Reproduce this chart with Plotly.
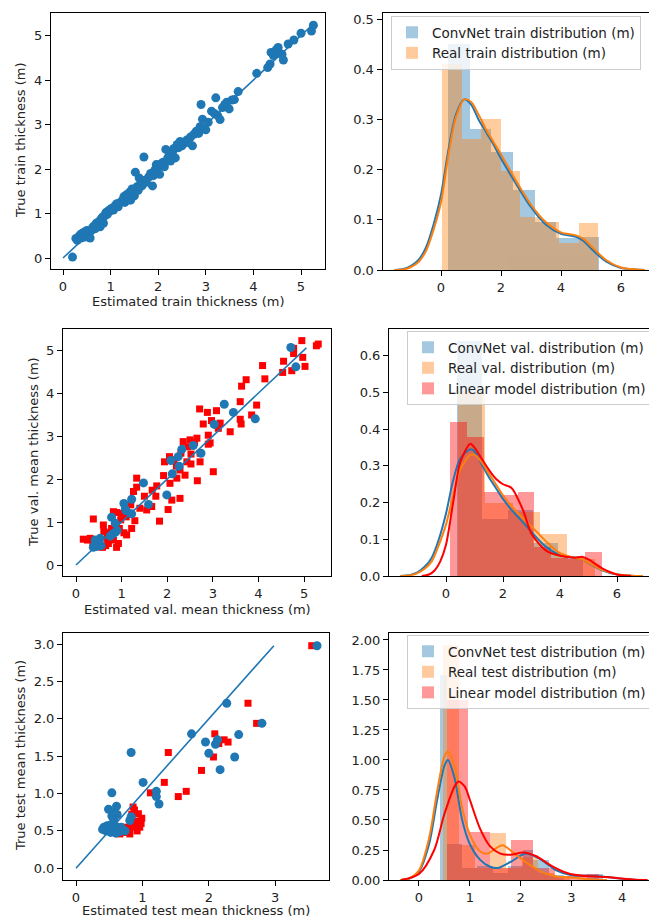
import plotly.graph_objects as go

W, H = 649, 921
BLUE = "#1f77b4"
ORANGE = "#ff7f0e"
RED = "#ff0000"
FONT = "DejaVu Sans"

# ---------------- train scatter (estimated, true) ----------------
train_est = [0.20, 0.27, 0.30, 0.33, 0.36, 0.38, 0.40, 0.42, 0.44, 0.46, 0.48, 0.50, 0.52, 0.55, 0.57,
             0.60, 0.62, 0.65, 0.68, 0.70, 0.73, 0.76, 0.78, 0.80, 0.83, 0.85, 0.88, 0.90, 0.93, 0.95,
             0.98, 1.00, 1.03, 1.06, 1.10, 1.13, 1.16, 1.20, 1.25, 1.28, 1.30, 1.33, 1.36, 1.40, 1.42,
             1.45, 1.48, 1.50, 1.52, 1.55, 1.58, 1.60, 1.63, 1.66, 1.70, 1.72, 1.75, 1.80, 1.84, 1.88,
             1.90, 1.93, 1.96, 2.00, 2.03, 2.06, 2.10, 2.13, 2.16, 2.20, 2.23, 2.26, 2.30, 2.33, 2.36,
             2.40, 2.43, 2.46, 2.50, 2.55, 2.60, 2.63, 2.68, 2.72, 2.75, 2.80, 2.85, 2.88, 2.90, 2.93,
             2.96, 3.00, 3.05, 3.12, 3.18, 3.21, 3.25, 3.30, 3.35, 3.40, 3.44, 3.49, 3.55, 3.60, 3.68,
             4.07, 4.30, 4.35, 4.37, 4.42, 4.48, 4.52, 4.55, 4.60, 4.63, 4.73, 4.85, 5.00, 5.22, 5.26]
train_true = [0.02, 0.44, 0.40, 0.48, 0.52, 0.45, 0.55, 0.50, 0.58, 0.47, 0.55, 0.62, 0.50, 0.57, 0.45,
              0.62, 0.68, 0.72, 0.66, 0.78, 0.74, 0.82, 0.70, 0.88, 0.92, 0.78, 0.95, 1.02, 0.98, 1.06,
              1.05, 1.10, 1.12, 1.08, 1.18, 1.22, 1.15, 1.25, 1.30, 1.38, 1.25, 1.42, 1.35, 1.48, 1.30,
              1.55, 1.50, 1.40, 1.93, 1.60, 1.52, 1.80, 1.68, 1.62, 2.27, 1.75, 1.70, 1.82, 1.90, 1.62,
              1.85, 1.98, 2.10, 2.05, 1.88, 2.12, 2.15, 2.05, 2.44, 2.25, 2.30, 2.18, 2.38, 2.46, 2.25,
              2.55, 2.48, 2.62, 2.52, 2.58, 2.65, 2.60, 2.72, 2.52, 2.78, 2.85, 2.80, 2.95, 3.45, 3.12,
              2.92, 2.88, 3.05, 3.30, 3.25, 3.60, 3.20, 3.11, 3.38, 3.45, 3.50, 3.35, 3.55, 3.56, 3.74,
              4.15, 4.28, 4.36, 4.62, 4.55, 4.68, 4.73, 4.60, 4.58, 4.45, 4.81, 4.90, 5.05, 5.10, 5.23]
train_line = [0.0, 5.23]

# ---------------- val scatter ----------------
val_cnn_est = [4.71, 4.82, 3.25, 3.45, 3.93, 3.03, 2.57, 2.32, 2.74, 2.24, 2.08, 2.26, 2.11, 1.48, 1.99,
               1.59, 1.05, 1.22, 1.10, 1.22, 0.78, 0.86, 0.86, 0.75, 0.53, 0.42, 0.45, 0.38, 0.50, 0.47,
               0.42, 0.55, 0.80, 0.90, 1.08]
val_cnn_true = [5.06, 4.61, 3.74, 3.55, 3.40, 3.27, 2.78, 2.69, 2.60, 2.52, 2.43, 2.30, 2.12, 1.91, 1.63,
                1.41, 1.43, 1.53, 1.26, 1.19, 1.11, 0.97, 0.76, 0.67, 0.62, 0.50, 0.43, 0.41, 0.55, 0.47,
                0.58, 0.45, 0.72, 0.80, 1.30]
val_lin_est = [4.95, 5.31, 5.27, 4.77, 4.77, 4.97, 5.02, 4.73, 4.53, 4.55, 4.09, 4.14, 3.73, 3.63, 3.60,
               3.96, 3.85, 3.60, 3.62, 3.38, 2.71, 2.88, 3.08, 2.97, 2.79, 3.16, 3.12, 2.90, 2.94, 2.90,
               3.01, 2.66, 2.72, 2.72, 2.35, 2.50, 2.65, 2.52, 2.43, 2.05, 1.94, 2.28, 2.39, 2.21, 2.06,
               2.28, 2.10, 2.02, 1.83, 1.92, 1.77, 1.67, 1.66, 1.55, 1.33, 1.33, 1.26, 1.40, 1.29, 1.22,
               1.11, 1.10, 0.89, 0.82, 0.98, 0.95, 0.78, 0.60, 0.61, 0.69, 0.82, 0.93, 0.89, 0.71, 0.58,
               0.37, 0.31, 0.16, 0.38, 2.45, 2.60, 2.15, 2.30, 1.50, 1.20, 1.00, 0.70, 0.50, 0.25, 0.65,
               1.05, 2.52, 1.75, 2.20]
val_lin_true = [5.22, 5.14, 5.10, 4.92, 5.04, 4.83, 4.62, 4.52, 4.48, 4.74, 4.64, 4.33, 4.31, 4.16, 3.80,
                3.72, 3.49, 3.39, 3.28, 3.10, 3.63, 3.55, 3.59, 3.36, 3.28, 3.30, 3.18, 3.02, 2.84, 2.81,
                2.17, 1.96, 2.60, 2.40, 2.87, 2.91, 2.95, 2.58, 2.40, 2.52, 2.40, 2.21, 2.09, 2.02, 1.90,
                1.55, 1.51, 1.29, 1.02, 2.08, 1.84, 1.74, 1.36, 1.28, 2.02, 1.81, 1.71, 1.32, 1.03, 0.85,
                0.70, 1.12, 1.22, 1.24, 1.05, 0.85, 0.85, 0.93, 0.78, 0.62, 0.58, 0.50, 0.41, 0.50, 0.41,
                0.50, 0.62, 0.60, 1.07, 2.75, 2.85, 2.45, 2.60, 1.60, 1.40, 1.20, 0.75, 0.50, 0.58, 0.45,
                0.75, 2.35, 1.60, 2.30]
val_line = [0.0, 5.05]

# ---------------- test scatter ----------------
test_cnn_est = [3.63, 2.27, 2.80, 1.74, 2.45, 1.95, 2.10, 2.13, 2.00, 2.39, 2.17, 0.83, 1.01, 1.21, 1.21,
                1.25, 0.54, 0.49, 0.61, 0.54, 0.58, 0.62, 0.81, 0.83, 0.57, 0.42, 0.45, 0.47, 0.50, 0.52,
                0.55, 0.58, 0.60, 0.63, 0.66, 0.70, 0.45, 0.52, 0.60, 0.68, 0.74, 0.40]
test_cnn_true = [2.98, 2.21, 1.94, 1.80, 1.79, 1.69, 1.66, 1.72, 1.54, 1.49, 1.32, 1.55, 1.15, 1.03, 0.96,
                 0.86, 1.01, 0.79, 0.83, 0.70, 0.74, 0.72, 0.64, 0.69, 0.65, 0.55, 0.50, 0.57, 0.52, 0.48,
                 0.55, 0.50, 0.56, 0.52, 0.49, 0.51, 0.53, 0.58, 0.47, 0.55, 0.50, 0.52]
test_lin_est = [3.55, 2.59, 2.72, 2.09, 2.23, 2.29, 2.15, 2.07, 1.89, 1.39, 1.33, 1.12, 1.66, 1.54, 0.86,
                0.84, 0.94, 0.99, 0.91, 0.89, 0.96, 0.77, 0.81, 0.66, 0.71, 0.85, 0.92, 0.75, 0.88, 0.63,
                0.98, 0.80, 0.70, 0.83]
test_lin_true = [2.98, 2.21, 1.94, 1.80, 1.72, 1.69, 1.67, 1.49, 1.31, 1.55, 1.15, 1.01, 1.03, 0.96, 0.82,
                 0.72, 0.73, 0.67, 0.63, 0.55, 0.55, 0.50, 0.46, 0.46, 0.48, 0.60, 0.50, 0.55, 0.78, 0.50,
                 0.60, 0.52, 0.49, 0.65]
test_line = [0.0, 2.98]

# ---------------- histograms (bin edges, densities) ----------------
train_cnn_edges = [0.22, 0.94, 1.66, 2.38, 3.10, 3.82, 4.54, 5.26]
train_cnn_heights = [0.45, 0.28, 0.235, 0.16, 0.095, 0.063, 0.066]
train_real_edges = [0.02, 0.67, 1.32, 1.97, 2.63, 3.28, 3.93, 4.58, 5.23]
train_real_heights = [0.41, 0.26, 0.30, 0.197, 0.105, 0.095, 0.053, 0.093]

val_cnn_edges = [0.39, 1.28, 2.16, 3.05, 3.93, 4.82]
val_cnn_heights = [0.64, 0.155, 0.18, 0.09, 0.055]
val_real_edges = [0.42, 1.38, 2.34, 3.30, 4.26, 5.22]
val_real_heights = [0.50, 0.20, 0.175, 0.115, 0.045]
val_lin_edges = [0.15, 0.74, 1.33, 1.92, 2.51, 3.10, 3.69, 4.28, 4.87, 5.46]
val_lin_heights = [0.42, 0.38, 0.23, 0.22, 0.23, 0.08, 0.05, 0.045, 0.065]

test_cnn_edges = [0.41, 0.56, 0.85, 1.15, 1.45, 1.75, 2.05, 2.25, 2.55, 2.85, 3.30, 3.62]
test_cnn_heights = [1.71, 0.30, 0.10, 0.12, 0.06, 0.12, 0.25, 0.17, 0.04, 0.0, 0.05]
test_real_edges = [0.47, 0.78, 1.10, 1.40, 1.72, 2.03, 2.35, 2.66, 2.98]
test_real_heights = [1.96, 0.29, 0.10, 0.39, 0.10, 0.19, 0.06, 0.03]
test_lin_edges = [0.56, 0.97, 1.39, 1.82, 2.25, 2.68, 3.10, 3.55]
test_lin_heights = [1.50, 0.40, 0.10, 0.33, 0.10, 0.03, 0.05]

# ---------------- KDE curves ----------------
train_kde_x = [-1.55, -1.25, -1.0, -0.75, -0.5, -0.25, 0.0, 0.25, 0.5, 0.78, 1.0, 1.25, 1.5, 1.75, 2.0,
               2.5, 3.0, 3.5, 4.0, 4.5, 4.75, 5.0, 5.5, 6.0, 6.5, 6.8]
train_cnn_kde = [0.0, 0.002, 0.008, 0.02, 0.045, 0.09, 0.15, 0.24, 0.31, 0.34, 0.33, 0.30, 0.275, 0.25,
                 0.222, 0.172, 0.125, 0.09, 0.072, 0.066, 0.058, 0.043, 0.017, 0.004, 0.001, 0.0]
train_real_kde = [0.0, 0.001, 0.006, 0.016, 0.038, 0.08, 0.135, 0.23, 0.305, 0.34, 0.335, 0.31, 0.28,
                  0.255, 0.23, 0.178, 0.13, 0.095, 0.075, 0.069, 0.062, 0.048, 0.02, 0.005, 0.001, 0.0]

val_kde_x = [-1.6, -1.25, -1.0, -0.75, -0.5, -0.25, 0.0, 0.25, 0.5, 0.85, 1.0, 1.25, 1.5, 1.75, 2.0,
             2.3, 2.6, 3.0, 3.5, 4.0, 4.5, 4.8, 5.0, 5.5, 6.0, 6.5, 6.9]
val_cnn_kde = [0.0, 0.003, 0.01, 0.025, 0.05, 0.1, 0.17, 0.26, 0.32, 0.345, 0.34, 0.305, 0.27, 0.24,
               0.21, 0.18, 0.155, 0.12, 0.08, 0.057, 0.05, 0.045, 0.035, 0.015, 0.004, 0.001, 0.0]
val_real_kde = [0.0, 0.002, 0.008, 0.02, 0.04, 0.085, 0.14, 0.22, 0.29, 0.33, 0.33, 0.31, 0.28, 0.25,
                0.22, 0.19, 0.165, 0.135, 0.095, 0.062, 0.05, 0.045, 0.036, 0.016, 0.005, 0.001, 0.0]
val_lin_kde_x = [-0.85, -0.6, -0.4, -0.2, 0.0, 0.25, 0.5, 0.85, 1.0, 1.25, 1.5, 1.75, 2.0, 2.3, 2.7,
                 3.0, 3.5, 4.0, 4.5, 4.8, 5.0, 5.5, 6.0, 6.5]
val_lin_kde = [0.0, 0.004, 0.015, 0.04, 0.085, 0.2, 0.31, 0.36, 0.35, 0.32, 0.29, 0.265, 0.25, 0.24,
               0.18, 0.115, 0.07, 0.055, 0.05, 0.052, 0.045, 0.02, 0.004, 0.0]

test_cnn_kde_x = [-0.37, -0.2, 0.0, 0.2, 0.35, 0.5, 0.57, 0.7, 0.85, 1.0, 1.2, 1.4, 1.55, 1.8, 2.1,
                  2.4, 2.7, 3.0, 3.3, 3.6, 4.0, 4.3]
test_cnn_kde = [0.0, 0.01, 0.07, 0.3, 0.65, 0.95, 1.0, 0.85, 0.5, 0.3, 0.17, 0.11, 0.1, 0.15, 0.22,
                0.17, 0.08, 0.04, 0.035, 0.03, 0.01, 0.0]
test_real_kde_x = [-0.37, -0.2, 0.0, 0.2, 0.35, 0.5, 0.57, 0.7, 0.85, 1.0, 1.2, 1.35, 1.5, 1.65, 1.85,
                   2.1, 2.4, 2.7, 3.0, 3.4, 3.7]
test_real_kde = [0.0, 0.012, 0.08, 0.35, 0.72, 1.03, 1.07, 0.95, 0.6, 0.38, 0.24, 0.22, 0.26, 0.29, 0.23,
                 0.15, 0.07, 0.03, 0.02, 0.005, 0.0]
test_lin_kde_x = [-0.35, 0.0, 0.3, 0.5, 0.7, 0.78, 0.9, 1.0, 1.2, 1.4, 1.6, 1.8, 2.05, 2.3, 2.6, 2.9,
                  3.2, 3.5, 3.8, 4.2, 4.5]
test_lin_kde = [0.0, 0.05, 0.25, 0.55, 0.78, 0.82, 0.78, 0.67, 0.43, 0.28, 0.22, 0.21, 0.23, 0.2, 0.12,
                0.06, 0.035, 0.03, 0.02, 0.005, 0.0]

# ---------------- labels / ticks ----------------
legend_train = ["ConvNet train distribution (m)", "Real train distribution (m)"]
legend_val = ["ConvNet val. distribution (m)", "Real val. distribution (m)", "Linear model distribution (m)"]
legend_test = ["ConvNet test distribution (m)", "Real test distribution (m)", "Linear model distribution (m)"]
xlabels = ["Estimated train thickness (m)", "Estimated val. mean thickness (m)", "Estimated test mean thickness (m)"]
ylabels = ["True train thickness (m)", "True val. mean thickness (m)", "True test mean thickness (m)"]

sc_ticks = [0, 1, 2, 3, 4, 5]
test_sc_xticks = [0, 1, 2, 3]
test_sc_yticks = [0.0, 0.5, 1.0, 1.5, 2.0, 2.5, 3.0]
hist_xticks = [0, 2, 4, 6]
test_hist_xticks = [0, 1, 2, 3, 4]
train_hist_yticks = [0.0, 0.1, 0.2, 0.3, 0.4, 0.5]
val_hist_yticks = [0.0, 0.1, 0.2, 0.3, 0.4, 0.5, 0.6]
test_hist_yticks = [0.0, 0.25, 0.5, 0.75, 1.0, 1.25, 1.5, 1.75, 2.0]

fig = go.Figure()


def px_x(a, b):
    return [a / W, min(b / W, 1.0)]


def px_y(top, bottom):
    return [1 - bottom / H, 1 - top / H]


def add_bars(edges, heights, color, name, xa, ya, legend):
    centers = [(edges[i] + edges[i + 1]) / 2 for i in range(len(heights))]
    widths = [edges[i + 1] - edges[i] for i in range(len(heights))]
    fig.add_trace(go.Bar(x=centers, y=heights, width=widths, name=name, opacity=0.4,
                         marker=dict(color=color, line=dict(width=0)),
                         xaxis=xa, yaxis=ya, legend=legend, showlegend=True))


def add_kde(x, y, color, xa, ya):
    fig.add_trace(go.Scatter(x=x, y=y, mode="lines", line=dict(color=color, width=2, shape="spline",
                                                               smoothing=0.8),
                             xaxis=xa, yaxis=ya, showlegend=False))


# panel 1 : train scatter
fig.add_trace(go.Scatter(x=train_est, y=train_true, mode="markers",
                         marker=dict(color=BLUE, size=9, line=dict(width=0)),
                         xaxis="x", yaxis="y", showlegend=False))
fig.add_trace(go.Scatter(x=train_line, y=train_line, mode="lines", line=dict(color=BLUE, width=1.6),
                         xaxis="x", yaxis="y", showlegend=False))

# panel 2 : train hist
add_bars(train_cnn_edges, train_cnn_heights, BLUE, legend_train[0], "x2", "y2", "legend")
add_kde(train_kde_x, train_cnn_kde, BLUE, "x2", "y2")
add_bars(train_real_edges, train_real_heights, ORANGE, legend_train[1], "x2", "y2", "legend")
add_kde(train_kde_x, train_real_kde, ORANGE, "x2", "y2")

# panel 3 : val scatter
fig.add_trace(go.Scatter(x=val_lin_est, y=val_lin_true, mode="markers",
                         marker=dict(color=RED, size=7, symbol="square", line=dict(width=0)),
                         xaxis="x3", yaxis="y3", showlegend=False))
fig.add_trace(go.Scatter(x=val_cnn_est, y=val_cnn_true, mode="markers",
                         marker=dict(color=BLUE, size=9, line=dict(width=0)),
                         xaxis="x3", yaxis="y3", showlegend=False))
fig.add_trace(go.Scatter(x=val_line, y=val_line, mode="lines", line=dict(color=BLUE, width=1.6),
                         xaxis="x3", yaxis="y3", showlegend=False))

# panel 4 : val hist
add_bars(val_cnn_edges, val_cnn_heights, BLUE, legend_val[0], "x4", "y4", "legend2")
add_kde(val_kde_x, val_cnn_kde, BLUE, "x4", "y4")
add_bars(val_real_edges, val_real_heights, ORANGE, legend_val[1], "x4", "y4", "legend2")
add_kde(val_kde_x, val_real_kde, ORANGE, "x4", "y4")
add_bars(val_lin_edges, val_lin_heights, RED, legend_val[2], "x4", "y4", "legend2")
add_kde(val_lin_kde_x, val_lin_kde, RED, "x4", "y4")

# panel 5 : test scatter
fig.add_trace(go.Scatter(x=test_lin_est, y=test_lin_true, mode="markers",
                         marker=dict(color=RED, size=7, symbol="square", line=dict(width=0)),
                         xaxis="x5", yaxis="y5", showlegend=False))
fig.add_trace(go.Scatter(x=test_cnn_est, y=test_cnn_true, mode="markers",
                         marker=dict(color=BLUE, size=9, line=dict(width=0)),
                         xaxis="x5", yaxis="y5", showlegend=False))
fig.add_trace(go.Scatter(x=test_line, y=test_line, mode="lines", line=dict(color=BLUE, width=1.6),
                         xaxis="x5", yaxis="y5", showlegend=False))

# panel 6 : test hist
add_bars(test_cnn_edges, test_cnn_heights, BLUE, legend_test[0], "x6", "y6", "legend3")
add_kde(test_cnn_kde_x, test_cnn_kde, BLUE, "x6", "y6")
add_bars(test_real_edges, test_real_heights, ORANGE, legend_test[1], "x6", "y6", "legend3")
add_kde(test_real_kde_x, test_real_kde, ORANGE, "x6", "y6")
add_bars(test_lin_edges, test_lin_heights, RED, legend_test[2], "x6", "y6", "legend3")
add_kde(test_lin_kde_x, test_lin_kde, RED, "x6", "y6")


def axis(domain, rng, ticks, anchor, mirror=True, fmt=None):
    d = dict(domain=domain, range=rng, anchor=anchor, tickmode="array", tickvals=ticks,
             showline=True, linecolor="black", linewidth=1, mirror=mirror,
             ticks="outside", ticklen=5, tickwidth=1, tickcolor="black",
             showgrid=False, zeroline=False, tickfont=dict(family=FONT, size=13, color="#222"))
    if fmt:
        d["tickformat"] = fmt
    return d


layout = dict(width=W, height=H, autosize=False, margin=dict(l=0, r=0, t=0, b=0, autoexpand=False),
              paper_bgcolor="white", plot_bgcolor="white", barmode="overlay", bargap=0,
              font=dict(family=FONT, size=13, color="#222"))

# panel geometry (pixels)
layout["xaxis"] = axis(px_x(51, 325), [-0.252, 5.504], sc_ticks, "y")
layout["yaxis"] = axis(px_y(13, 269), [-0.247, 5.506], sc_ticks, "x")
layout["xaxis2"] = axis(px_x(382.5, W), [-1.95, (W - 441) / 30.0], hist_xticks, "y2")
layout["yaxis2"] = axis(px_y(13, 270), [0, 0.512], train_hist_yticks, "x2", mirror=False, fmt=".1f")
layout["xaxis3"] = axis(px_x(63, 331), [-0.285, 5.59], sc_ticks, "y3")
layout["yaxis3"] = axis(px_y(329, 576), [-0.256, 5.49], sc_ticks, "x3")
layout["xaxis4"] = axis(px_x(389, W), [-2.0, (W - 446) / 28.5], hist_xticks, "y4")
layout["yaxis4"] = axis(px_y(329, 576), [0, 0.673], val_hist_yticks, "x4", mirror=False, fmt=".1f")
layout["xaxis5"] = axis(px_x(63, 329), [-0.196, 3.81], test_sc_xticks, "y5")
layout["yaxis5"] = axis(px_y(633, 880), [-0.157, 3.15], test_sc_yticks, "x5", fmt=".1f")
layout["xaxis6"] = axis(px_x(389, W), [-0.59, (W - 419) / 50.8], test_hist_xticks, "y6")
layout["yaxis6"] = axis(px_y(633, 880), [0, 2.058], test_hist_yticks, "x6", mirror=False, fmt=".2f")

leg = dict(xanchor="left", yanchor="top", bgcolor="rgba(255,255,255,0.8)", bordercolor="#cccccc",
           borderwidth=1, font=dict(family=FONT, size=13.5, color="#222"), tracegroupgap=0)
layout["legend"] = dict(leg, x=391 / W, y=1 - 16 / H)
layout["legend2"] = dict(leg, x=407 / W, y=1 - 331 / H)
layout["legend3"] = dict(leg, x=407 / W, y=1 - 635 / H)

ann = []
xlab_pos = [(188, 302), (197, 609), (196, 910)]
ylab_pos = [(20, 141), (33, 452), (20, 756)]
for t, (x, y) in zip(xlabels, xlab_pos):
    ann.append(dict(text=t, x=x / W, y=1 - y / H, xref="paper", yref="paper", showarrow=False,
                    xanchor="center", yanchor="middle", font=dict(family=FONT, size=13, color="#222")))
for t, (x, y) in zip(ylabels, ylab_pos):
    ann.append(dict(text=t, x=x / W, y=1 - y / H, xref="paper", yref="paper", showarrow=False,
                    textangle=-90, xanchor="center", yanchor="middle",
                    font=dict(family=FONT, size=13, color="#222")))
layout["annotations"] = ann

fig.update_layout(**layout)
fig.write_html("out.html")
